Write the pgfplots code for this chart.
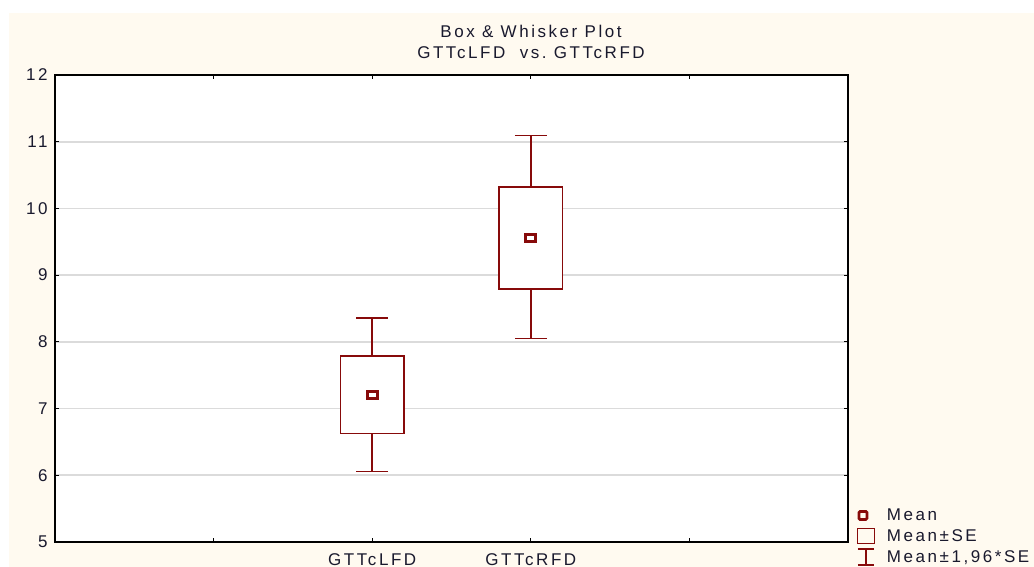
\documentclass[border=0pt]{standalone}
\usepackage{fontspec}
\usepackage{pgfplots}
\pgfplotsset{compat=1.18}
\newfontfamily\lsf{Liberation Sans}[LetterSpace=15]
\definecolor{dred}{RGB}{135,10,10}
\definecolor{cream}{RGB}{255,250,240}
\definecolor{txt}{RGB}{25,25,45}
\newcommand\lfont{\lsf\fontsize{17bp}{19bp}\selectfont}
\begin{document}
\begin{tikzpicture}
\useasboundingbox (0,0) rectangle (1034bp,567bp);
\fill[white] (0,0) rectangle (1034bp,567bp);
\fill[cream] (9bp,0) rectangle (1034bp,554bp);
\node[txt,font=\lfont] at (531bp,536bp) {Box \& Whisker Plot};
\node[txt,font=\lfont] at (531bp,514bp) {GTTcLFD\ \ vs.\ GTTcRFD};
\begin{axis}[at={(55bp,25bp)}, anchor=south west, width=793bp, height=467bp, scale only axis,
 xmin=0, xmax=5, ymin=5, ymax=12,
 xtick={1,2,3,4}, xticklabels={,GTTcLFD,GTTcRFD,},
 ytick={5,...,12},
 tick align=inside, major tick length=4bp,
 axis background/.style={fill=white},
 axis line style={black, line width=1.3bp},
 tick style={black,line width=1bp},
 ymajorgrids, grid style={black!14, line width=1.6bp},
 ticklabel style={font=\lfont, text=txt},
 yticklabel style={xshift=-4bp},
 xticklabel style={yshift=-8bp},
 /pgf/number format/assume math mode=true,
 legend style={at={(1.0113,-0.051)}, anchor=south west, draw=none, fill=none,
   inner sep=0pt, outer sep=0pt, column sep=10bp, row sep=3.5bp,
   font=\lfont, text=txt, cells={anchor=west}},
]
% whiskers: mean +- 1.96*SE
\addplot[draw=none, mark=none, forget plot,
  error bars/.cd, y dir=both, y explicit, error mark=-,
  error bar style={dred, line width=1.5bp},
  error mark options={dred, line width=1.5bp, mark size=16bp, rotate=90}]
  coordinates {(2,7.2) += (0,1.16) -= (0,1.14)
               (3,9.56) += (0,1.53) -= (0,1.51)};
% boxes: mean +- SE
\addplot[draw=dred, fill=white, line width=1.5bp, forget plot]
  coordinates {(1.8,6.63) (2.2,6.63) (2.2,7.79) (1.8,7.79)} -- cycle;
\addplot[draw=dred, fill=white, line width=1.5bp, forget plot]
  coordinates {(2.8,8.79) (3.2,8.79) (3.2,10.32) (2.8,10.32)} -- cycle;
% means
\addplot[only marks, mark=square, mark size=3.6bp,
  mark options={draw=dred, line width=3bp, xscale=1.4, rounded corners=1bp}, forget plot]
  coordinates {(2,7.2) (3,9.56)};
\addlegendimage{legend image code/.code={
  \path[draw=none,fill=none] (0bp,-8bp) rectangle (18bp,8bp);
  \draw[dred,fill=none,line width=2.8bp,rounded corners=1.2bp] (2bp,-4bp) rectangle (10bp,4bp);}}
\addlegendentry{Mean}
\addlegendimage{legend image code/.code={
  \path[draw=none,fill=none] (0bp,-8bp) rectangle (18bp,8bp);
  \draw[dred,fill=none,line width=1.3bp] (0.7bp,-7.5bp) rectangle (17.3bp,7.5bp);}}
\addlegendentry{Mean±SE}
\addlegendimage{legend image code/.code={
  \path[draw=none,fill=none] (0bp,-8bp) rectangle (18bp,8bp);
  \draw[dred,fill=none,line width=1.4bp] (1bp,-8bp)--(17bp,-8bp) (9bp,-8bp)--(9bp,8bp) (1bp,8bp)--(17bp,8bp);}}
\addlegendentry{Mean±1,96*SE}
\end{axis}
\end{tikzpicture}
\end{document}
